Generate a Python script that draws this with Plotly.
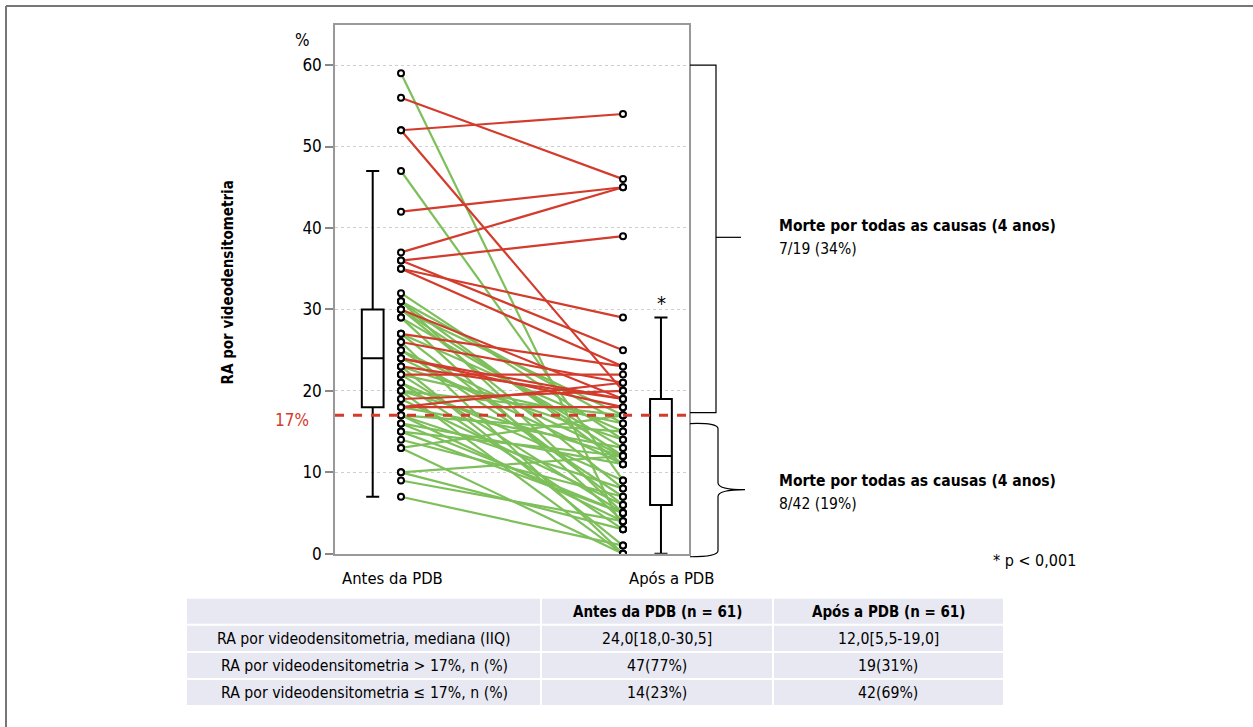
import plotly.graph_objects as go

W, H = 1253, 727          # reference picture size (coordinates below are in this frame)
FIG_H = 738               # rendered figure height (capture is resized to 727)
FONT = "Liberation Sans Narrow, Arial Narrow, DejaVu Sans Condensed, sans-serif"

# ---------------- data ----------------
# red: post-PDB RA > 17 %
red_pre = [56, 52, 52, 42, 37, 36, 35, 36, 35, 27, 30, 26, 24, 22, 24, 19, 18, 18, 23]
red_post = [46, 54, 20, 45, 45, 39, 29, 25, 23, 23, 19, 21, 18, 22, 19, 20, 21, 18, 19]
# green: post-PDB RA <= 17 %
green_pre = [59, 47, 32, 31, 31, 31, 30, 30, 30, 29, 29, 27, 27, 26, 25, 25, 24, 23, 23, 22, 22,
             21, 21, 20, 20, 20, 19, 18, 17, 17, 17, 16, 16, 15, 15, 14, 13, 13, 10, 10, 9, 7]
green_post = [3, 9, 14, 5, 16, 11, 8, 17, 12, 4, 13, 6, 15, 0, 12, 7, 11, 1, 14, 5, 16,
              9, 3, 12, 0, 17, 6, 13, 4, 15, 8, 5, 11, 5, 12, 7, 0, 17, 12, 3, 4, 1]

# box statistics: lower fence, q1, median, q3, upper fence
box_pre = [7, 18, 24, 30, 47]
box_post = [0, 6, 12, 19, 29]

categories = ["Antes da PDB", "Após a PDB"]
threshold = 17
y_ticks = [0, 10, 20, 30, 40, 50, 60]

table_header = ["", "Antes da PDB (n = 61)", "Após a PDB (n = 61)"]
table_rows = ["RA por videodensitometria, mediana (IIQ)",
              "RA por videodensitometria > 17%, n (%)",
              "RA por videodensitometria ≤ 17%, n (%)"]
table_pre = ["24,0[18,0-30,5]", "47(77%)", "14(23%)"]
table_post = ["12,0[5,5-19,0]", "19(31%)", "42(69%)"]

RED = "#d33b2c"
GREEN = "#7dbf5a"

# ---------------- geometry helpers ----------------
def px(x, y):
    return x / W, 1 - y / H

X_PRE, X_POST = 1, 2
X_BOX_PRE, X_BOX_POST = 0.8725, 2.171

fig = go.Figure()

def seg_xy(pre, post):
    xs, ys = [], []
    for a, b in zip(pre, post):
        xs += [X_PRE, X_POST, None]
        ys += [a, b, None]
    return xs, ys

gx, gy = seg_xy(green_pre, green_post)
fig.add_trace(go.Scatter(x=gx, y=gy, mode="lines", line=dict(color=GREEN, width=2.2),
                         hoverinfo="skip", showlegend=False))
rx, ry = seg_xy(red_pre, red_post)
fig.add_trace(go.Scatter(x=rx, y=ry, mode="lines", line=dict(color=RED, width=2.2),
                         hoverinfo="skip", showlegend=False))

all_pre = green_pre + red_pre
all_post = green_post + red_post
fig.add_trace(go.Scatter(x=[X_PRE] * len(all_pre) + [X_POST] * len(all_post),
                         y=all_pre + all_post, mode="markers",
                         marker=dict(size=6, color="white", line=dict(color="black", width=2)),
                         showlegend=False))

for xpos, st in [(X_BOX_PRE, box_pre), (X_BOX_POST, box_post)]:
    fig.add_trace(go.Box(x=[xpos], lowerfence=[st[0]], q1=[st[1]], median=[st[2]],
                         q3=[st[3]], upperfence=[st[4]], width=0.098, whiskerwidth=0.6,
                         line=dict(color="black", width=2), fillcolor="rgba(255,255,255,0)",
                         boxpoints=False, showlegend=False))

x0d, y0d = 335 / W, 1 - 553 / H
x1d, y1d = 689 / W, 1 - 25 / H

shapes = []
shapes.append(dict(type="line", xref="paper", yref="y", x0=x0d, x1=x1d, y0=threshold, y1=threshold,
                   line=dict(color=RED, width=3, dash="dash"), layer="above"))

def path(points):
    s = ""
    for i, (x, y) in enumerate(points):
        X, Y = px(x, y)
        s += ("M" if i == 0 else "L") + f"{X},{Y} "
    return s

shapes.append(dict(type="path", xref="paper", yref="paper",
                   path=path([(690, 65), (716, 65), (716, 412), (690, 412)]),
                   line=dict(color="black", width=1.2)))
shapes.append(dict(type="path", xref="paper", yref="paper",
                   path=path([(716, 237), (741, 237)]), line=dict(color="black", width=1.2)))

def qpath():
    def P(x, y):
        X, Y = px(x, y)
        return f"{X},{Y}"
    s = "M" + P(690, 423)
    s += " Q" + P(718, 422) + " " + P(718, 428)
    s += " L" + P(718, 482)
    s += " Q" + P(718, 489) + " " + P(745, 489)
    s += " Q" + P(718, 489) + " " + P(718, 496)
    s += " L" + P(718, 550)
    s += " Q" + P(718, 556) + " " + P(690, 556)
    return s

shapes.append(dict(type="path", xref="paper", yref="paper", path=qpath(),
                   line=dict(color="black", width=1.2)))

shapes.append(dict(type="line", xref="paper", yref="paper", x0=6 / W, x1=1, y0=1 - 6 / H, y1=1 - 6 / H,
                   line=dict(color="#777777", width=2)))
shapes.append(dict(type="line", xref="paper", yref="paper", x0=6 / W, x1=6 / W, y0=0, y1=1 - 6 / H,
                   line=dict(color="#777777", width=2)))

col_edges = [187, 541, 773, 1003]
row_edges = [598, 624, 651, 678, 705]
for r in range(4):
    for c in range(3):
        xa, ya = px(col_edges[c] + (1 if c > 0 else 0), row_edges[r] + (1 if r > 0 else 0))
        xb, yb = px(col_edges[c + 1] - (1 if c < 2 else 0), row_edges[r + 1] - 1)
        shapes.append(dict(type="rect", xref="paper", yref="paper", x0=xa, x1=xb, y0=yb, y1=ya,
                           fillcolor="#e8e8f2", line=dict(width=0), layer="below"))

ann = []
def text(x, y, t, size=15, color="black", bold=False, xanchor="center", angle=0):
    X, Y = px(x, y)
    ann.append(dict(x=X, y=Y, xref="paper", yref="paper", text=f"<b>{t}</b>" if bold else t,
                    showarrow=False, xanchor=xanchor, yanchor="middle", textangle=angle,
                    font=dict(family=FONT, size=size, color=color)))

text(302, 40, "%", size=17)
text(311, 419, "17%", size=17, color=RED, xanchor="right")
text(228, 282, "RA por videodensitometria", size=15, bold=True, angle=-90)
text(392, 578, categories[0], size=16.5)
text(671, 578, categories[1], size=16.5)
text(661, 303, "*", size=20)

text(777, 226, "Morte por todas as causas (4 anos)", size=15.5, bold=True, xanchor="left")
text(777, 249, "7/19 (34%)", size=15.5, xanchor="left")
text(777, 480, "Morte por todas as causas (4 anos)", size=15.5, bold=True, xanchor="left")
text(777, 503, "8/42 (19%)", size=15.5, xanchor="left")
text(1078, 560, "* p < 0,001", size=16, xanchor="right")

col_centers = [(col_edges[i] + col_edges[i + 1]) / 2 for i in range(3)]
row_centers = [(row_edges[i] + row_edges[i + 1]) / 2 for i in range(4)]
for c in range(1, 3):
    text(col_centers[c], row_centers[0], table_header[c], size=15, bold=True)
for r in range(3):
    text(col_centers[0], row_centers[r + 1], table_rows[r], size=15.7)
    text(col_centers[1], row_centers[r + 1], table_pre[r], size=15.7)
    text(col_centers[2], row_centers[r + 1], table_post[r], size=15.7)

fig.update_layout(
    width=W, height=FIG_H, margin=dict(l=0, r=0, t=0, b=0),
    paper_bgcolor="white", plot_bgcolor="white",
    shapes=shapes, annotations=ann, showlegend=False,
    xaxis=dict(domain=[x0d, x1d], range=[1 - 66 / 222, 2 + 66 / 222], showticklabels=False,
               showgrid=False, zeroline=False, showline=True, mirror=True, linecolor="#999999",
               linewidth=1.5, ticks=""),
    yaxis=dict(domain=[y0d, y1d], range=[0, 64.92], tickvals=y_ticks, ticks="outside", ticklen=8,
               tickcolor="#888888", tickwidth=1.5, showline=True, mirror=True, linecolor="#999999",
               linewidth=1.5, showgrid=True, gridcolor="#cfcfcf", griddash="dot", gridwidth=1,
               zeroline=False, tickfont=dict(family=FONT, size=17, color="black")),
)

post = ("document.body.style.margin='0';document.body.style.overflow='hidden';"
        "document.documentElement.style.overflow='hidden';")

fig.write_html("out.html", post_script=post, config={"displayModeBar": False})
